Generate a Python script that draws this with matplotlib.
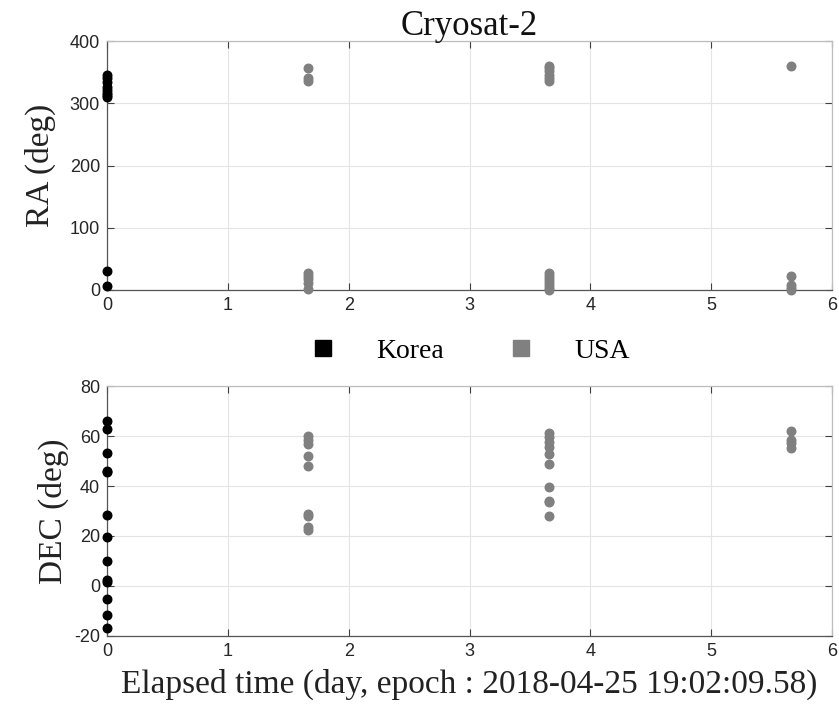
import matplotlib
matplotlib.use("Agg")
import matplotlib.pyplot as plt
from matplotlib.lines import Line2D

plt.rcParams["axes.unicode_minus"] = False

# ---- data ----
title = "Cryosat-2"
series_names = ["Korea", "USA"]
xticks = [0, 1, 2, 3, 4, 5, 6]
ra_ticks = [0, 100, 200, 300, 400]
dec_ticks = [-20, 0, 20, 40, 60, 80]

korea_t = [0.0]
korea_ra = [345, 340, 334, 326, 321, 317, 313, 310, 31, 6]
korea_dec = [66.1, 62.7, 53.3, 46.2, 45.5, 28.4, 19.5, 10.0, 2.6, 1.8, -5.2, -11.6, -16.9]

usa_t = [1.66, 3.66, 5.66]
usa_ra = [
    [357, 340, 336, 28, 23, 18, 12, 2],
    [360, 357, 352, 346, 340, 336, 28, 23, 18, 13, 8, 3, 0],
    [360, 22, 8, 3, 0],
]
usa_dec = [
    [60, 58.5, 57, 52, 48, 29, 28, 23.5, 22.5],
    [61.3, 59.5, 57.7, 55.7, 53, 49, 39.5, 34.1, 33.5, 28],
    [62.1, 58.5, 57.2, 55.1],
]

xlabel = "Elapsed time (day, epoch : 2018-04-25 19:02:09.58)"

# ---- style ----
W, H = 839, 706
fig = plt.figure(figsize=(W / 100, H / 100), dpi=100)
serif = ["Liberation Serif", "DejaVu Serif"]
sans = ["Liberation Sans", "DejaVu Sans"]
c_korea = "#000000"
c_usa = "#808080"
ms = 38

ax1 = fig.add_axes([107 / W, 1 - 290 / H, 725 / W, 249 / H])
ax2 = fig.add_axes([107 / W, 1 - 636 / H, 725 / W, 250 / H])


def style(ax, yticks, ylim):
    ax.set_xlim(0, 6)
    ax.set_ylim(*ylim)
    ax.set_xticks(xticks)
    ax.set_yticks(yticks)
    ax.grid(True, color="#e4e4e4", linewidth=0.8)
    ax.set_axisbelow(True)
    ax.tick_params(direction="in", length=5, width=0.8, color="#404040",
                   top=True, right=True, labelsize=13, labelcolor="#262626", pad=5)
    for lab in ax.get_xticklabels() + ax.get_yticklabels():
        lab.set_family(sans)
    for s in ["left", "bottom"]:
        ax.spines[s].set_color("#555555")
        ax.spines[s].set_linewidth(0.9)
    for s in ["top", "right"]:
        ax.spines[s].set_color("#bdbdbd")
        ax.spines[s].set_linewidth(0.9)


style(ax1, ra_ticks, (0, 400))
style(ax2, dec_ticks, (-20, 80))

ax1.scatter(korea_t * len(korea_ra), korea_ra, s=ms, color=c_korea, zorder=3, clip_on=False)
ax2.scatter(korea_t * len(korea_dec), korea_dec, s=ms, color=c_korea, zorder=3, clip_on=False)
for t, ra, dec in zip(usa_t, usa_ra, usa_dec):
    ax1.scatter([t] * len(ra), ra, s=ms, color=c_usa, zorder=3, clip_on=False)
    ax2.scatter([t] * len(dec), dec, s=ms, color=c_usa, zorder=3, clip_on=False)

ax1.set_title(title, family=serif, fontsize=25, color="#111111", pad=4)
ax1.set_ylabel("RA (deg)", family=serif, fontsize=24, color="#222222", labelpad=10)
ax2.set_ylabel("DEC (deg)", family=serif, fontsize=24, color="#222222", labelpad=4)
ax2.set_xlabel(xlabel, family=serif, fontsize=24, color="#222222", labelpad=6)

handles = [Line2D([], [], marker="s", linestyle="none", markersize=12,
                  markerfacecolor=c, markeredgecolor=c) for c in (c_korea, c_usa)]
fig.legend(handles, series_names, loc="center", bbox_to_anchor=(468 / W, 1 - 351 / H),
           ncol=2, frameon=False, prop={"family": serif, "size": 20},
           handletextpad=1.3, columnspacing=2.2, handlelength=1.2)

fig.savefig("out.png", dpi=100)
